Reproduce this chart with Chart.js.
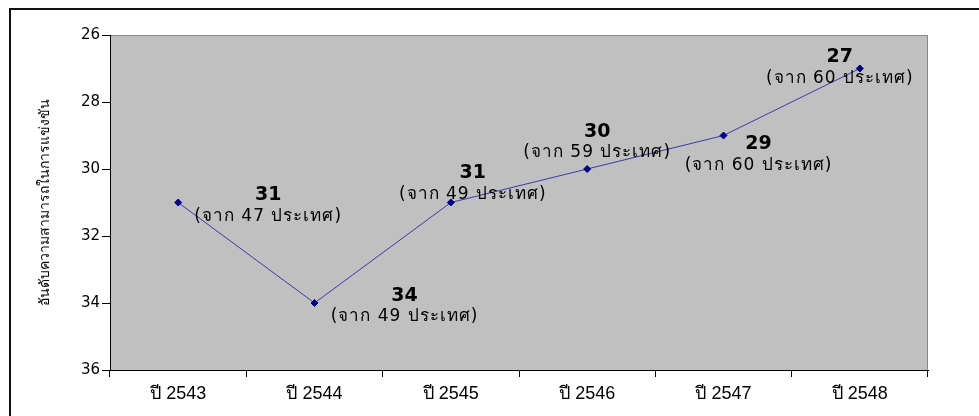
<!DOCTYPE html>
<html>
<head>
<meta charset="utf-8">
<script src="https://cdn.jsdelivr.net/npm/chart.js@4.4.1/dist/chart.umd.min.js"></script>
<style>
  html, body { margin: 0; padding: 0; background: #fff; overflow: hidden; }
  #wrap { position: relative; width: 979px; height: 416px; }
  #frame { position: absolute; left: 9px; top: 8px; width: 1000px; height: 500px;
           border-top: 2px solid #111; border-left: 2px solid #111; }
  canvas { position: absolute; left: 0; top: 0; }
</style>
</head>
<body>
<div id="wrap">
  <div id="frame"></div>
  <canvas id="chart" width="979" height="416"></canvas>
</div>
<script>
// Thailand's competitiveness ranking, 2543–2548
const years = ['ปี 2543', 'ปี 2544', 'ปี 2545', 'ปี 2546', 'ปี 2547', 'ปี 2548'];
const ranks = [31, 34, 31, 30, 29, 27];
const countries = [47, 49, 49, 59, 60, 60];
const yTicks = [26, 28, 30, 32, 34, 36];

// label placement relative to each point (pixels)
const labelOffsets = [
  { dx: 90, dy: -7 },
  { dx: 90, dy: -7 },
  { dx: 22, dy: -29 },
  { dx: 10, dy: -37 },
  { dx: 35, dy: 9 },
  { dx: -20, dy: -11 }
];

const FONT = '"DejaVu Sans", Tahoma, Verdana, sans-serif';
const NARROW = '"Liberation Sans Narrow", "Liberation Sans", sans-serif';

const plotBackground = {
  id: 'plotBackground',
  beforeDraw(chart) {
    const { ctx, chartArea: a } = chart;
    ctx.save();
    ctx.fillStyle = '#c0c0c0';
    ctx.fillRect(a.left, a.top, a.right - a.left, a.bottom - a.top);
    ctx.strokeStyle = '#8a8a8a';
    ctx.lineWidth = 1;
    ctx.beginPath();
    ctx.moveTo(a.left, a.top + 0.5);
    ctx.lineTo(a.right - 0.5, a.top + 0.5);
    ctx.lineTo(a.right - 0.5, a.bottom);
    ctx.stroke();
    ctx.restore();
  }
};

const rankLabels = {
  id: 'rankLabels',
  afterDatasetsDraw(chart) {
    const { ctx } = chart;
    const meta = chart.getDatasetMeta(0);
    ctx.save();
    ctx.textAlign = 'center';
    ctx.textBaseline = 'middle';
    ctx.fillStyle = '#000';
    meta.data.forEach((pt, i) => {
      const off = labelOffsets[i];
      const x = pt.x + off.dx;
      const y = pt.y + off.dy;
      ctx.letterSpacing = '0px';
      ctx.font = 'bold 19px ' + FONT;
      ctx.fillText(String(ranks[i]), x, y);
      ctx.letterSpacing = '1px';
      ctx.font = '17px ' + FONT;
      ctx.fillText('(จาก ' + countries[i] + ' ประเทศ)', x, y + 21);
    });
    ctx.restore();
  }
};

new Chart(document.getElementById('chart'), {
  type: 'line',
  data: {
    labels: years,
    datasets: [{
      data: ranks,
      borderColor: '#3a3aa8',
      borderWidth: 1,
      pointStyle: 'rectRot',
      pointRadius: 3.5,
      pointBackgroundColor: '#000080',
      pointBorderColor: '#000080',
      tension: 0
    }]
  },
  options: {
    responsive: false,
    animation: false,
    layout: { padding: { left: 20, right: 51, top: 35, bottom: 0 } },
    plugins: { legend: { display: false }, tooltip: { enabled: false } },
    scales: {
      x: {
        offset: true,
        grid: { offset: true, drawOnChartArea: false, drawTicks: true, tickLength: 7, tickColor: '#000', lineWidth: 1 },
        border: { color: '#000', width: 1 },
        ticks: { color: '#000', font: { family: NARROW, size: 18 }, padding: 6, maxRotation: 0 },
        afterFit(scale) { scale.height = 46; }
      },
      y: {
        reverse: true,
        min: 26,
        max: 36,
        afterBuildTicks(scale) { scale.ticks = yTicks.map(v => ({ value: v })); },
        grid: { drawOnChartArea: false, drawTicks: true, tickLength: 8, tickColor: '#000' },
        border: { color: '#000', width: 1 },
        ticks: { color: '#000', font: { family: FONT, size: 15 }, padding: 2 },
        title: {
          display: true,
          text: 'อันดับความสามารถในการแข่งขัน',
          color: '#000',
          font: { family: FONT, size: 14 },
          padding: { top: 17, bottom: 0 }
        },
        afterFit(scale) { scale.width = 90; }
      }
    }
  },
  plugins: [plotBackground, rankLabels]
});
</script>
</body>
</html>
